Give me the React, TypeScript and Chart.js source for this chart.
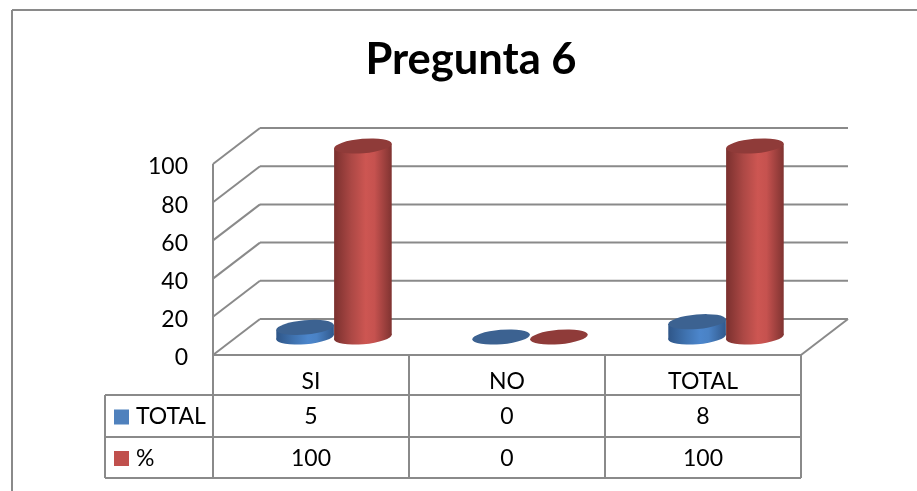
import React, { useEffect, useRef } from "react";
import { Chart, registerables } from "chart.js";

Chart.register(...registerables);

const categories = ["SI", "NO", "TOTAL"];
const totalValues = [5, 0, 8];
const percentValues = [100, 0, 100];
const seriesNames = ["TOTAL", "%"];
const yTicks = { min: 0, max: 100, step: 20 };

const FONT = "Lato";
const LINE = "#8A8A8A";
const LINE_WIDTH = 2;
const DEPTH_X = 47;
const DEPTH_Y = -36;
const TILT = (-5 * Math.PI) / 180;
const RY = 7.2;

const palette = [
  { swatch: "#4F81BD", top: "#3C6291", stops: ["#2F5688", "#3F72AF", "#4C86CC", "#4A82C5", "#31598C"] },
  { swatch: "#C0504D", top: "#8F3B39", stops: ["#7A302E", "#AC4845", "#CD5652", "#C6524F", "#7F3331"] },
];

// Draws one tilted cylinder standing between the base and top pixel rows.
function drawCylinder(ctx: CanvasRenderingContext2D, cx: number, yTop: number, yBase: number, rx: number, colors: any) {
  const t = Math.atan((-RY / rx) * Math.tan(TILT));
  const tx = rx * Math.cos(t) * Math.cos(TILT) - RY * Math.sin(t) * Math.sin(TILT);
  const ty = rx * Math.cos(t) * Math.sin(TILT) + RY * Math.sin(t) * Math.cos(TILT);
  if (yBase - yTop > 0.5) {
    const g = ctx.createLinearGradient(cx - rx, 0, cx + rx, 0);
    [0, 0.3, 0.55, 0.7, 1].forEach((p, i) => g.addColorStop(p, colors.stops[i]));
    ctx.fillStyle = g;
    ctx.beginPath();
    ctx.ellipse(cx, yBase, rx, RY, TILT, 0, Math.PI * 2);
    ctx.fill();
    ctx.beginPath();
    ctx.moveTo(cx - tx, yTop - ty);
    ctx.lineTo(cx + tx, yTop + ty);
    ctx.lineTo(cx + tx, yBase + ty);
    ctx.lineTo(cx - tx, yBase - ty);
    ctx.closePath();
    ctx.fill();
  }
  ctx.fillStyle = colors.top;
  ctx.beginPath();
  ctx.ellipse(cx, yTop, rx, RY, TILT, 0, Math.PI * 2);
  ctx.fill();
}

const chartFrame = {
  id: "chartFrame",
  beforeDatasetsDraw(chart: any) {
    const { ctx, chartArea: a, scales } = chart;
    ctx.save();
    ctx.strokeStyle = LINE;
    ctx.lineWidth = LINE_WIDTH;
    const seg = (x1: number, y1: number, x2: number, y2: number) => {
      ctx.beginPath();
      ctx.moveTo(x1, y1);
      ctx.lineTo(x2, y2);
      ctx.stroke();
    };
    // outer frame of the chart object
    seg(12, 10, 917, 10);
    seg(12, 10, 12, 491);
    // left wall, back wall and floor
    seg(a.left, a.top, a.left, a.bottom);
    scales.y.ticks.forEach((tick: any) => {
      const y = scales.y.getPixelForValue(tick.value);
      seg(a.left, y, a.left + DEPTH_X, y + DEPTH_Y);
      seg(a.left + DEPTH_X, y + DEPTH_Y, a.right + DEPTH_X, y + DEPTH_Y);
    });
    seg(a.left, a.bottom, a.right, a.bottom);
    seg(a.right, a.bottom, a.right + DEPTH_X, a.bottom + DEPTH_Y);
    ctx.restore();
  },
  afterDatasetsDraw(chart: any) {
    const { ctx, chartArea: a, data, scales } = chart;
    ctx.save();
    // cylinders sit half way through the floor depth
    data.datasets.forEach((_: any, d: number) => {
      chart.getDatasetMeta(d).data.forEach((bar: any) => {
        drawCylinder(
          ctx,
          bar.x + DEPTH_X / 2 - 0.5,
          bar.y + DEPTH_Y / 2,
          bar.base + DEPTH_Y / 2,
          bar.width / 2,
          palette[d]
        );
      });
    });

    // data table under the floor
    const rows = [a.bottom, 395, 437, 478];
    const keyLeft = 105;
    ctx.strokeStyle = LINE;
    ctx.lineWidth = LINE_WIDTH;
    const seg = (x1: number, y1: number, x2: number, y2: number) => {
      ctx.beginPath();
      ctx.moveTo(x1, y1);
      ctx.lineTo(x2, y2);
      ctx.stroke();
    };
    rows.slice(1).forEach((y) => seg(keyLeft, y, a.right, y));
    seg(keyLeft, rows[1], keyLeft, rows[3]);
    const step = (a.right - a.left) / categories.length;
    for (let i = 0; i <= categories.length; i++) {
      seg(a.left + step * i, a.bottom, a.left + step * i, rows[3]);
    }
    ctx.font = `23px ${FONT}`;
    ctx.textBaseline = "middle";
    data.datasets.forEach((ds: any, d: number) => {
      const mid = (rows[d + 1] + rows[d + 2]) / 2 + 1;
      ctx.fillStyle = palette[d].swatch;
      ctx.fillRect(114, mid - 7.5, 15, 15);
      ctx.fillStyle = "#000";
      ctx.textAlign = "left";
      ctx.fillText(ds.label, 136, mid);
      ctx.textAlign = "center";
      ds.data.forEach((v: number, i: number) => {
        ctx.fillText(String(v), scales.x.getPixelForValue(i), mid);
      });
    });
    ctx.restore();
  },
};

export default function App() {
  const ref = useRef<HTMLCanvasElement>(null);
  useEffect(() => {
    const chart = new Chart(ref.current!, {
      type: "bar",
      data: {
        labels: categories,
        datasets: [
          { label: seriesNames[0], data: totalValues, backgroundColor: "transparent" },
          { label: seriesNames[1], data: percentValues, backgroundColor: "transparent" },
        ],
      },
      options: {
        responsive: false,
        animation: false,
        layout: { padding: { left: 141, right: 116, top: 0, bottom: 0 } },
        datasets: { bar: { categoryPercentage: 0.59, barPercentage: 1 } },
        plugins: {
          legend: { display: false },
          tooltip: { enabled: false },
          title: {
            display: true,
            text: "Pregunta 6",
            color: "#000",
            font: { family: FONT, size: 43.5, weight: "bold", lineHeight: 1.2 },
            padding: { top: 34, bottom: 77.8 },
          },
        },
        scales: {
          x: {
            grid: { display: false, drawTicks: false },
            border: { display: false },
            ticks: { color: "#000", font: { family: FONT, size: 23 }, padding: 12.5, maxRotation: 0 },
            afterFit: (s: any) => { s.height = 136; },
          },
          y: {
            min: yTicks.min,
            max: yTicks.max,
            grid: { display: false, drawTicks: false },
            border: { display: false },
            ticks: { stepSize: yTicks.step, color: "#000", font: { family: FONT, size: 23 }, padding: 25, labelOffset: 3 },
            afterFit: (s: any) => { s.width = 72; },
          },
        },
      },
      plugins: [chartFrame],
    } as any);
    return () => chart.destroy();
  }, []);
  return (
    <div style={{ position: "fixed", left: 0, top: 0, width: 917, height: 491, background: "#fff" }}>
      <canvas ref={ref} width={917} height={491} style={{ display: "block" }} />
    </div>
  );
}
